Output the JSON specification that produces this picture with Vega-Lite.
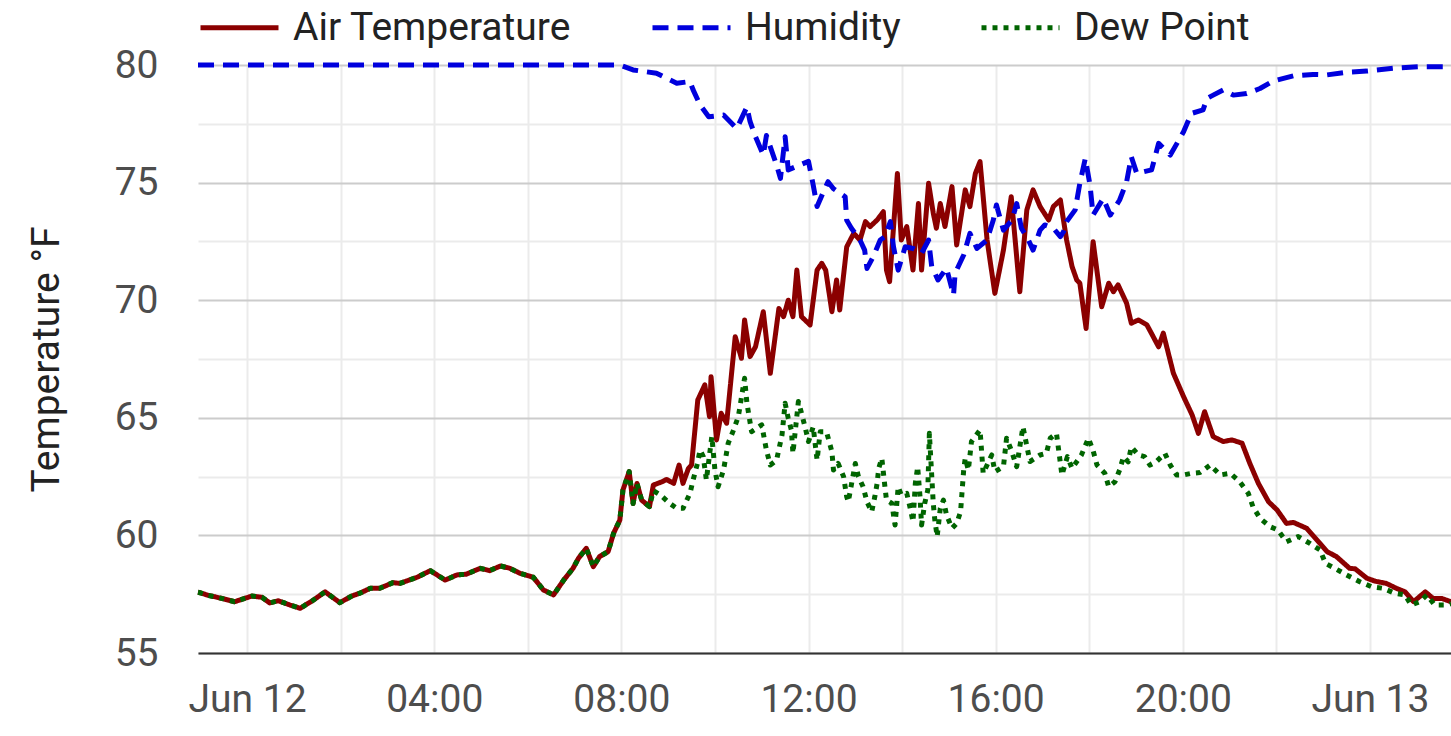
{
"$schema": "https://vega.github.io/schema/vega-lite/v6.json",
"width": 1253,
"height": 588,
"autosize": {"type": "none"},
"padding": {"left": 198, "top": 65, "right": 0, "bottom": 83},
"background": "white",
"config": {"font": "Roboto", "view": {"stroke": null}},
"data": {"values": [
{"s":"A","t":"2024-06-11T22:57","v":57.58},{"s":"A","t":"2024-06-11T23:00","v":57.56},{"s":"A","t":"2024-06-11T23:10","v":57.45},{"s":"A","t":"2024-06-11T23:19","v":57.39},{"s":"A","t":"2024-06-11T23:30","v":57.3},{"s":"A","t":"2024-06-11T23:44","v":57.18},{"s":"A","t":"2024-06-11T23:55","v":57.3},
{"s":"A","t":"2024-06-12T00:06","v":57.42},{"s":"A","t":"2024-06-12T00:19","v":57.37},{"s":"A","t":"2024-06-12T00:29","v":57.13},{"s":"A","t":"2024-06-12T00:40","v":57.22},{"s":"A","t":"2024-06-12T00:55","v":57.04},{"s":"A","t":"2024-06-12T01:08","v":56.9},{"s":"A","t":"2024-06-12T01:25","v":57.25},{"s":"A","t":"2024-06-12T01:40","v":57.6},{"s":"A","t":"2024-06-12T01:59","v":57.14},{"s":"A","t":"2024-06-12T02:14","v":57.42},{"s":"A","t":"2024-06-12T02:25","v":57.55},{"s":"A","t":"2024-06-12T02:38","v":57.75},{"s":"A","t":"2024-06-12T02:50","v":57.75},{"s":"A","t":"2024-06-12T03:07","v":57.99},{"s":"A","t":"2024-06-12T03:16","v":57.96},{"s":"A","t":"2024-06-12T03:38","v":58.22},{"s":"A","t":"2024-06-12T03:55","v":58.5},{"s":"A","t":"2024-06-12T04:14","v":58.1},{"s":"A","t":"2024-06-12T04:29","v":58.32},{"s":"A","t":"2024-06-12T04:41","v":58.35},{"s":"A","t":"2024-06-12T04:59","v":58.6},{"s":"A","t":"2024-06-12T05:11","v":58.5},{"s":"A","t":"2024-06-12T05:25","v":58.7},{"s":"A","t":"2024-06-12T05:37","v":58.6},{"s":"A","t":"2024-06-12T05:50","v":58.39},{"s":"A","t":"2024-06-12T06:07","v":58.22},{"s":"A","t":"2024-06-12T06:20","v":57.68},{"s":"A","t":"2024-06-12T06:33","v":57.47},{"s":"A","t":"2024-06-12T06:46","v":58.1},{"s":"A","t":"2024-06-12T06:58","v":58.6},{"s":"A","t":"2024-06-12T07:05","v":59.03},{"s":"A","t":"2024-06-12T07:15","v":59.45},{"s":"A","t":"2024-06-12T07:24","v":58.67},{"s":"A","t":"2024-06-12T07:32","v":59.1},{"s":"A","t":"2024-06-12T07:43","v":59.31},{"s":"A","t":"2024-06-12T07:50","v":60.09},{"s":"A","t":"2024-06-12T07:58","v":60.65},
{"s":"A","t":"2024-06-12T08:02","v":61.93},{"s":"A","t":"2024-06-12T08:10","v":62.71},{"s":"A","t":"2024-06-12T08:15","v":61.36},{"s":"A","t":"2024-06-12T08:20","v":62.21},{"s":"A","t":"2024-06-12T08:26","v":61.5},{"s":"A","t":"2024-06-12T08:36","v":61.22},{"s":"A","t":"2024-06-12T08:41","v":62.14},{"s":"A","t":"2024-06-12T08:52","v":62.28},{"s":"A","t":"2024-06-12T08:58","v":62.38},{"s":"A","t":"2024-06-12T09:07","v":62.21},{"s":"A","t":"2024-06-12T09:14","v":62.99},{"s":"A","t":"2024-06-12T09:19","v":62.21},{"s":"A","t":"2024-06-12T09:26","v":62.85},{"s":"A","t":"2024-06-12T09:30","v":62.99},{"s":"A","t":"2024-06-12T09:38","v":65.76},{"s":"A","t":"2024-06-12T09:47","v":66.4},{"s":"A","t":"2024-06-12T09:53","v":65.05},{"s":"A","t":"2024-06-12T09:55","v":66.75},{"s":"A","t":"2024-06-12T10:02","v":64.06},{"s":"A","t":"2024-06-12T10:08","v":65.19},{"s":"A","t":"2024-06-12T10:15","v":64.77},{"s":"A","t":"2024-06-12T10:26","v":68.45},{"s":"A","t":"2024-06-12T10:34","v":67.53},{"s":"A","t":"2024-06-12T10:38","v":69.16},{"s":"A","t":"2024-06-12T10:45","v":67.6},{"s":"A","t":"2024-06-12T10:52","v":68.02},{"s":"A","t":"2024-06-12T11:02","v":69.51},{"s":"A","t":"2024-06-12T11:11","v":66.89},{"s":"A","t":"2024-06-12T11:22","v":69.65},{"s":"A","t":"2024-06-12T11:28","v":69.3},{"s":"A","t":"2024-06-12T11:34","v":70.0},{"s":"A","t":"2024-06-12T11:40","v":69.3},{"s":"A","t":"2024-06-12T11:45","v":71.28},{"s":"A","t":"2024-06-12T11:51","v":69.3},{"s":"A","t":"2024-06-12T12:02","v":68.95},{"s":"A","t":"2024-06-12T12:11","v":71.28},{"s":"A","t":"2024-06-12T12:17","v":71.57},{"s":"A","t":"2024-06-12T12:22","v":71.28},{"s":"A","t":"2024-06-12T12:30","v":69.51},{"s":"A","t":"2024-06-12T12:36","v":70.86},{"s":"A","t":"2024-06-12T12:40","v":69.58},{"s":"A","t":"2024-06-12T12:49","v":72.27},{"s":"A","t":"2024-06-12T12:58","v":72.84},{"s":"A","t":"2024-06-12T13:06","v":72.56},{"s":"A","t":"2024-06-12T13:13","v":73.34},{"s":"A","t":"2024-06-12T13:19","v":73.13},{"s":"A","t":"2024-06-12T13:28","v":73.41},{"s":"A","t":"2024-06-12T13:36","v":73.76},{"s":"A","t":"2024-06-12T13:40","v":71.28},{"s":"A","t":"2024-06-12T13:44","v":70.79},{"s":"A","t":"2024-06-12T13:54","v":75.39},{"s":"A","t":"2024-06-12T13:59","v":72.56},{"s":"A","t":"2024-06-12T14:06","v":73.13},{"s":"A","t":"2024-06-12T14:14","v":71.28},{"s":"A","t":"2024-06-12T14:21","v":74.11},{"s":"A","t":"2024-06-12T14:25","v":71.28},{"s":"A","t":"2024-06-12T14:34","v":74.97},{"s":"A","t":"2024-06-12T14:40","v":73.7},{"s":"A","t":"2024-06-12T14:44","v":73.06},{"s":"A","t":"2024-06-12T14:49","v":74.11},{"s":"A","t":"2024-06-12T14:55","v":73.13},{"s":"A","t":"2024-06-12T15:04","v":74.83},{"s":"A","t":"2024-06-12T15:10","v":72.35},{"s":"A","t":"2024-06-12T15:21","v":74.69},{"s":"A","t":"2024-06-12T15:27","v":73.98},{"s":"A","t":"2024-06-12T15:34","v":75.39},{"s":"A","t":"2024-06-12T15:40","v":75.89},{"s":"A","t":"2024-06-12T15:49","v":72.56},{"s":"A","t":"2024-06-12T15:59","v":70.29},{"s":"A","t":"2024-06-12T16:10","v":72.13},{"s":"A","t":"2024-06-12T16:20","v":74.4},{"s":"A","t":"2024-06-12T16:31","v":70.36},{"s":"A","t":"2024-06-12T16:40","v":73.84},{"s":"A","t":"2024-06-12T16:48","v":74.69},{"s":"A","t":"2024-06-12T16:57","v":73.98},{"s":"A","t":"2024-06-12T17:08","v":73.41},{"s":"A","t":"2024-06-12T17:14","v":73.98},{"s":"A","t":"2024-06-12T17:23","v":74.26},{"s":"A","t":"2024-06-12T17:31","v":72.56},{"s":"A","t":"2024-06-12T17:38","v":71.43},{"s":"A","t":"2024-06-12T17:44","v":70.86},{"s":"A","t":"2024-06-12T17:48","v":70.72},{"s":"A","t":"2024-06-12T17:56","v":68.8},{"s":"A","t":"2024-06-12T18:05","v":72.49},{"s":"A","t":"2024-06-12T18:16","v":69.72},{"s":"A","t":"2024-06-12T18:25","v":70.72},{"s":"A","t":"2024-06-12T18:31","v":70.36},{"s":"A","t":"2024-06-12T18:37","v":70.65},{"s":"A","t":"2024-06-12T18:48","v":69.87},{"s":"A","t":"2024-06-12T18:54","v":69.02},{"s":"A","t":"2024-06-12T19:03","v":69.16},{"s":"A","t":"2024-06-12T19:14","v":68.95},{"s":"A","t":"2024-06-12T19:29","v":68.02},{"s":"A","t":"2024-06-12T19:35","v":68.6},{"s":"A","t":"2024-06-12T19:48","v":66.89},{"s":"A","t":"2024-06-12T20:01","v":65.9},{"s":"A","t":"2024-06-12T20:12","v":65.12},{"s":"A","t":"2024-06-12T20:20","v":64.34},{"s":"A","t":"2024-06-12T20:28","v":65.26},{"s":"A","t":"2024-06-12T20:39","v":64.2},{"s":"A","t":"2024-06-12T20:52","v":63.99},{"s":"A","t":"2024-06-12T21:03","v":64.06},{"s":"A","t":"2024-06-12T21:16","v":63.92},{"s":"A","t":"2024-06-12T21:26","v":63.06},{"s":"A","t":"2024-06-12T21:37","v":62.21},{"s":"A","t":"2024-06-12T21:50","v":61.43},{"s":"A","t":"2024-06-12T22:01","v":61.08},{"s":"A","t":"2024-06-12T22:13","v":60.51},{"s":"A","t":"2024-06-12T22:22","v":60.55},{"s":"A","t":"2024-06-12T22:39","v":60.3},{"s":"A","t":"2024-06-12T22:56","v":59.66},{"s":"A","t":"2024-06-12T23:05","v":59.31},{"s":"A","t":"2024-06-12T23:17","v":59.1},{"s":"A","t":"2024-06-12T23:34","v":58.6},{"s":"A","t":"2024-06-12T23:41","v":58.58},{"s":"A","t":"2024-06-12T23:56","v":58.18},{"s":"A","t":"2024-06-13T00:07","v":58.05},{"s":"A","t":"2024-06-13T00:21","v":57.96},{"s":"A","t":"2024-06-13T00:34","v":57.75},{"s":"A","t":"2024-06-13T00:45","v":57.6},{"s":"A","t":"2024-06-13T00:56","v":57.18},{"s":"A","t":"2024-06-13T01:11","v":57.6},{"s":"A","t":"2024-06-13T01:21","v":57.32},{"s":"A","t":"2024-06-13T01:32","v":57.32},{"s":"A","t":"2024-06-13T01:44","v":57.18},
{"s":"H","t":"2024-06-11T22:57","v":80},{"s":"H","t":"2024-06-12T07:58","v":80},{"s":"H","t":"2024-06-12T08:15","v":79.79},{"s":"H","t":"2024-06-12T08:45","v":79.65},{"s":"H","t":"2024-06-12T09:11","v":79.22},{"s":"H","t":"2024-06-12T09:28","v":79.3},{"s":"H","t":"2024-06-12T09:32","v":78.94},{"s":"H","t":"2024-06-12T09:41","v":78.3},{"s":"H","t":"2024-06-12T09:52","v":77.8},{"s":"H","t":"2024-06-12T10:11","v":77.87},{"s":"H","t":"2024-06-12T10:28","v":77.3},{"s":"H","t":"2024-06-12T10:41","v":78.22},{"s":"H","t":"2024-06-12T10:45","v":77.6},{"s":"H","t":"2024-06-12T10:52","v":76.95},{"s":"H","t":"2024-06-12T11:02","v":76.17},{"s":"H","t":"2024-06-12T11:06","v":77.0},{"s":"H","t":"2024-06-12T11:19","v":75.75},{"s":"H","t":"2024-06-12T11:24","v":75.18},{"s":"H","t":"2024-06-12T11:30","v":76.95},{"s":"H","t":"2024-06-12T11:34","v":75.54},{"s":"H","t":"2024-06-12T11:49","v":75.75},{"s":"H","t":"2024-06-12T12:00","v":75.9},{"s":"H","t":"2024-06-12T12:06","v":74.9},{"s":"H","t":"2024-06-12T12:11","v":73.98},{"s":"H","t":"2024-06-12T12:19","v":74.6},{"s":"H","t":"2024-06-12T12:25","v":75.04},{"s":"H","t":"2024-06-12T12:32","v":74.74},{"s":"H","t":"2024-06-12T12:47","v":74.4},{"s":"H","t":"2024-06-12T12:49","v":73.4},{"s":"H","t":"2024-06-12T12:55","v":73.06},{"s":"H","t":"2024-06-12T13:06","v":72.56},{"s":"H","t":"2024-06-12T13:12","v":72.13},{"s":"H","t":"2024-06-12T13:15","v":71.35},{"s":"H","t":"2024-06-12T13:23","v":71.85},{"s":"H","t":"2024-06-12T13:32","v":72.56},{"s":"H","t":"2024-06-12T13:38","v":72.7},{"s":"H","t":"2024-06-12T13:45","v":73.34},{"s":"H","t":"2024-06-12T13:49","v":72.27},{"s":"H","t":"2024-06-12T13:55","v":71.28},{"s":"H","t":"2024-06-12T14:04","v":72.27},{"s":"H","t":"2024-06-12T14:14","v":72.2},{"s":"H","t":"2024-06-12T14:25","v":71.99},{"s":"H","t":"2024-06-12T14:34","v":72.56},{"s":"H","t":"2024-06-12T14:38","v":71.43},{"s":"H","t":"2024-06-12T14:46","v":70.86},{"s":"H","t":"2024-06-12T14:57","v":71.36},{"s":"H","t":"2024-06-12T15:06","v":70.22},{"s":"H","t":"2024-06-12T15:08","v":71.14},{"s":"H","t":"2024-06-12T15:19","v":71.92},{"s":"H","t":"2024-06-12T15:27","v":72.84},{"s":"H","t":"2024-06-12T15:36","v":72.2},{"s":"H","t":"2024-06-12T15:49","v":72.56},{"s":"H","t":"2024-06-12T15:57","v":73.41},{"s":"H","t":"2024-06-12T16:01","v":74.05},{"s":"H","t":"2024-06-12T16:10","v":72.98},{"s":"H","t":"2024-06-12T16:21","v":73.41},{"s":"H","t":"2024-06-12T16:27","v":74.11},{"s":"H","t":"2024-06-12T16:33","v":73.06},{"s":"H","t":"2024-06-12T16:42","v":72.56},{"s":"H","t":"2024-06-12T16:48","v":72.13},{"s":"H","t":"2024-06-12T16:57","v":72.98},{"s":"H","t":"2024-06-12T17:03","v":73.2},{"s":"H","t":"2024-06-12T17:14","v":73.06},{"s":"H","t":"2024-06-12T17:23","v":72.7},{"s":"H","t":"2024-06-12T17:27","v":72.91},{"s":"H","t":"2024-06-12T17:31","v":73.34},{"s":"H","t":"2024-06-12T17:42","v":73.84},{"s":"H","t":"2024-06-12T17:48","v":74.97},{"s":"H","t":"2024-06-12T17:55","v":76.03},{"s":"H","t":"2024-06-12T18:01","v":74.9},{"s":"H","t":"2024-06-12T18:05","v":73.62},{"s":"H","t":"2024-06-12T18:18","v":74.33},{"s":"H","t":"2024-06-12T18:27","v":73.62},{"s":"H","t":"2024-06-12T18:39","v":74.26},{"s":"H","t":"2024-06-12T18:48","v":75.04},{"s":"H","t":"2024-06-12T18:54","v":76.1},{"s":"H","t":"2024-06-12T19:01","v":75.39},{"s":"H","t":"2024-06-12T19:20","v":75.54},{"s":"H","t":"2024-06-12T19:29","v":76.67},{"s":"H","t":"2024-06-12T19:44","v":76.17},{"s":"H","t":"2024-06-12T20:01","v":77.16},{"s":"H","t":"2024-06-12T20:11","v":77.94},{"s":"H","t":"2024-06-12T20:26","v":78.09},{"s":"H","t":"2024-06-12T20:31","v":78.58},{"s":"H","t":"2024-06-12T20:39","v":78.72},{"s":"H","t":"2024-06-12T20:52","v":78.94},{"s":"H","t":"2024-06-12T21:05","v":78.72},{"s":"H","t":"2024-06-12T21:22","v":78.79},{"s":"H","t":"2024-06-12T21:39","v":79.0},{"s":"H","t":"2024-06-12T21:56","v":79.32},{"s":"H","t":"2024-06-12T22:22","v":79.54},{"s":"H","t":"2024-06-12T22:47","v":79.6},{"s":"H","t":"2024-06-12T23:05","v":79.58},{"s":"H","t":"2024-06-12T23:30","v":79.69},{"s":"H","t":"2024-06-12T23:56","v":79.74},{"s":"H","t":"2024-06-13T00:30","v":79.86},{"s":"H","t":"2024-06-13T01:04","v":79.93},{"s":"H","t":"2024-06-13T01:44","v":79.93},
{"s":"D","t":"2024-06-11T22:57","v":57.58},{"s":"D","t":"2024-06-11T23:00","v":57.56},{"s":"D","t":"2024-06-11T23:10","v":57.45},{"s":"D","t":"2024-06-11T23:19","v":57.39},{"s":"D","t":"2024-06-11T23:30","v":57.3},{"s":"D","t":"2024-06-11T23:44","v":57.18},{"s":"D","t":"2024-06-11T23:55","v":57.3},
{"s":"D","t":"2024-06-12T00:06","v":57.42},{"s":"D","t":"2024-06-12T00:19","v":57.37},{"s":"D","t":"2024-06-12T00:29","v":57.13},{"s":"D","t":"2024-06-12T00:40","v":57.22},{"s":"D","t":"2024-06-12T00:55","v":57.04},{"s":"D","t":"2024-06-12T01:08","v":56.9},{"s":"D","t":"2024-06-12T01:25","v":57.25},{"s":"D","t":"2024-06-12T01:40","v":57.6},{"s":"D","t":"2024-06-12T01:59","v":57.14},{"s":"D","t":"2024-06-12T02:14","v":57.42},{"s":"D","t":"2024-06-12T02:25","v":57.55},{"s":"D","t":"2024-06-12T02:38","v":57.75},{"s":"D","t":"2024-06-12T02:50","v":57.75},{"s":"D","t":"2024-06-12T03:07","v":57.99},{"s":"D","t":"2024-06-12T03:16","v":57.96},{"s":"D","t":"2024-06-12T03:38","v":58.22},{"s":"D","t":"2024-06-12T03:55","v":58.5},{"s":"D","t":"2024-06-12T04:14","v":58.1},{"s":"D","t":"2024-06-12T04:29","v":58.32},{"s":"D","t":"2024-06-12T04:41","v":58.35},{"s":"D","t":"2024-06-12T04:59","v":58.6},{"s":"D","t":"2024-06-12T05:11","v":58.5},{"s":"D","t":"2024-06-12T05:25","v":58.7},{"s":"D","t":"2024-06-12T05:37","v":58.6},{"s":"D","t":"2024-06-12T05:50","v":58.39},{"s":"D","t":"2024-06-12T06:07","v":58.22},{"s":"D","t":"2024-06-12T06:20","v":57.68},{"s":"D","t":"2024-06-12T06:33","v":57.47},{"s":"D","t":"2024-06-12T06:46","v":58.1},{"s":"D","t":"2024-06-12T06:58","v":58.6},{"s":"D","t":"2024-06-12T07:05","v":59.03},{"s":"D","t":"2024-06-12T07:15","v":59.45},{"s":"D","t":"2024-06-12T07:24","v":58.67},{"s":"D","t":"2024-06-12T07:32","v":59.1},{"s":"D","t":"2024-06-12T07:43","v":59.31},{"s":"D","t":"2024-06-12T07:50","v":60.09},{"s":"D","t":"2024-06-12T07:58","v":60.65},
{"s":"D","t":"2024-06-12T08:02","v":61.93},{"s":"D","t":"2024-06-12T08:10","v":62.71},{"s":"D","t":"2024-06-12T08:15","v":61.36},{"s":"D","t":"2024-06-12T08:20","v":62.21},{"s":"D","t":"2024-06-12T08:26","v":61.5},{"s":"D","t":"2024-06-12T08:36","v":61.22},{"s":"D","t":"2024-06-12T08:41","v":61.9},{"s":"D","t":"2024-06-12T08:50","v":61.72},{"s":"D","t":"2024-06-12T09:02","v":61.36},{"s":"D","t":"2024-06-12T09:11","v":61.15},{"s":"D","t":"2024-06-12T09:19","v":61.15},{"s":"D","t":"2024-06-12T09:28","v":61.79},{"s":"D","t":"2024-06-12T09:32","v":62.36},{"s":"D","t":"2024-06-12T09:37","v":62.99},{"s":"D","t":"2024-06-12T09:41","v":63.63},{"s":"D","t":"2024-06-12T09:45","v":63.35},{"s":"D","t":"2024-06-12T09:49","v":62.36},{"s":"D","t":"2024-06-12T09:56","v":64.2},{"s":"D","t":"2024-06-12T10:00","v":62.78},{"s":"D","t":"2024-06-12T10:04","v":62.07},{"s":"D","t":"2024-06-12T10:11","v":62.78},{"s":"D","t":"2024-06-12T10:17","v":63.92},{"s":"D","t":"2024-06-12T10:23","v":64.41},{"s":"D","t":"2024-06-12T10:30","v":65.05},{"s":"D","t":"2024-06-12T10:38","v":66.68},{"s":"D","t":"2024-06-12T10:41","v":65.62},{"s":"D","t":"2024-06-12T10:47","v":64.41},{"s":"D","t":"2024-06-12T11:00","v":64.7},{"s":"D","t":"2024-06-12T11:06","v":63.63},{"s":"D","t":"2024-06-12T11:11","v":62.99},{"s":"D","t":"2024-06-12T11:19","v":63.2},{"s":"D","t":"2024-06-12T11:26","v":64.27},{"s":"D","t":"2024-06-12T11:30","v":65.62},{"s":"D","t":"2024-06-12T11:34","v":64.98},{"s":"D","t":"2024-06-12T11:38","v":64.48},{"s":"D","t":"2024-06-12T11:40","v":63.49},{"s":"D","t":"2024-06-12T11:47","v":65.69},{"s":"D","t":"2024-06-12T11:51","v":65.2},{"s":"D","t":"2024-06-12T11:56","v":64.55},{"s":"D","t":"2024-06-12T12:00","v":63.99},{"s":"D","t":"2024-06-12T12:06","v":64.62},{"s":"D","t":"2024-06-12T12:11","v":63.2},{"s":"D","t":"2024-06-12T12:15","v":64.41},{"s":"D","t":"2024-06-12T12:23","v":64.41},{"s":"D","t":"2024-06-12T12:30","v":63.56},{"s":"D","t":"2024-06-12T12:32","v":62.78},{"s":"D","t":"2024-06-12T12:38","v":63.06},{"s":"D","t":"2024-06-12T12:45","v":62.5},{"s":"D","t":"2024-06-12T12:49","v":61.64},{"s":"D","t":"2024-06-12T12:51","v":61.43},{"s":"D","t":"2024-06-12T13:00","v":63.06},{"s":"D","t":"2024-06-12T13:04","v":62.5},{"s":"D","t":"2024-06-12T13:10","v":62.07},{"s":"D","t":"2024-06-12T13:15","v":61.43},{"s":"D","t":"2024-06-12T13:21","v":61.0},{"s":"D","t":"2024-06-12T13:25","v":61.64},{"s":"D","t":"2024-06-12T13:28","v":62.21},{"s":"D","t":"2024-06-12T13:30","v":62.85},{"s":"D","t":"2024-06-12T13:34","v":63.28},{"s":"D","t":"2024-06-12T13:38","v":62.07},{"s":"D","t":"2024-06-12T13:40","v":61.5},{"s":"D","t":"2024-06-12T13:47","v":61.36},{"s":"D","t":"2024-06-12T13:49","v":60.87},{"s":"D","t":"2024-06-12T13:51","v":60.44},{"s":"D","t":"2024-06-12T13:55","v":62.07},{"s":"D","t":"2024-06-12T13:59","v":61.72},{"s":"D","t":"2024-06-12T14:06","v":61.79},{"s":"D","t":"2024-06-12T14:10","v":61.22},{"s":"D","t":"2024-06-12T14:14","v":60.58},{"s":"D","t":"2024-06-12T14:17","v":62.21},{"s":"D","t":"2024-06-12T14:20","v":62.92},{"s":"D","t":"2024-06-12T14:23","v":61.64},{"s":"D","t":"2024-06-12T14:25","v":60.44},{"s":"D","t":"2024-06-12T14:29","v":61.36},{"s":"D","t":"2024-06-12T14:33","v":61.93},{"s":"D","t":"2024-06-12T14:35","v":64.34},{"s":"D","t":"2024-06-12T14:40","v":61.36},{"s":"D","t":"2024-06-12T14:42","v":60.65},{"s":"D","t":"2024-06-12T14:45","v":59.95},{"s":"D","t":"2024-06-12T14:49","v":61.15},{"s":"D","t":"2024-06-12T14:53","v":61.5},{"s":"D","t":"2024-06-12T14:57","v":60.87},{"s":"D","t":"2024-06-12T15:04","v":60.3},{"s":"D","t":"2024-06-12T15:10","v":60.51},{"s":"D","t":"2024-06-12T15:15","v":61.0},{"s":"D","t":"2024-06-12T15:19","v":62.78},{"s":"D","t":"2024-06-12T15:21","v":63.28},{"s":"D","t":"2024-06-12T15:25","v":62.78},{"s":"D","t":"2024-06-12T15:29","v":63.99},{"s":"D","t":"2024-06-12T15:40","v":64.48},{"s":"D","t":"2024-06-12T15:44","v":62.64},{"s":"D","t":"2024-06-12T15:55","v":63.42},{"s":"D","t":"2024-06-12T15:59","v":62.71},{"s":"D","t":"2024-06-12T16:10","v":62.92},{"s":"D","t":"2024-06-12T16:14","v":64.13},{"s":"D","t":"2024-06-12T16:20","v":63.63},{"s":"D","t":"2024-06-12T16:27","v":62.92},{"s":"D","t":"2024-06-12T16:35","v":64.62},{"s":"D","t":"2024-06-12T16:44","v":63.14},{"s":"D","t":"2024-06-12T16:57","v":63.42},{"s":"D","t":"2024-06-12T17:05","v":63.49},{"s":"D","t":"2024-06-12T17:10","v":64.13},{"s":"D","t":"2024-06-12T17:18","v":64.34},{"s":"D","t":"2024-06-12T17:25","v":62.57},{"s":"D","t":"2024-06-12T17:32","v":63.35},{"s":"D","t":"2024-06-12T17:38","v":62.85},{"s":"D","t":"2024-06-12T17:50","v":63.42},{"s":"D","t":"2024-06-12T17:59","v":64.13},{"s":"D","t":"2024-06-12T18:05","v":63.6},{"s":"D","t":"2024-06-12T18:10","v":62.99},{"s":"D","t":"2024-06-12T18:20","v":62.64},{"s":"D","t":"2024-06-12T18:25","v":62.07},{"s":"D","t":"2024-06-12T18:33","v":62.28},{"s":"D","t":"2024-06-12T18:39","v":62.78},{"s":"D","t":"2024-06-12T18:44","v":63.35},{"s":"D","t":"2024-06-12T18:50","v":63.13},{"s":"D","t":"2024-06-12T18:54","v":63.77},{"s":"D","t":"2024-06-12T19:03","v":63.42},{"s":"D","t":"2024-06-12T19:11","v":63.35},{"s":"D","t":"2024-06-12T19:18","v":62.99},{"s":"D","t":"2024-06-12T19:26","v":63.13},{"s":"D","t":"2024-06-12T19:37","v":63.49},{"s":"D","t":"2024-06-12T19:44","v":62.99},{"s":"D","t":"2024-06-12T19:52","v":62.57},{"s":"D","t":"2024-06-12T20:01","v":62.57},{"s":"D","t":"2024-06-12T20:11","v":62.64},{"s":"D","t":"2024-06-12T20:22","v":62.67},{"s":"D","t":"2024-06-12T20:35","v":62.99},{"s":"D","t":"2024-06-12T20:48","v":62.57},{"s":"D","t":"2024-06-12T21:01","v":62.64},{"s":"D","t":"2024-06-12T21:13","v":62.28},{"s":"D","t":"2024-06-12T21:24","v":61.79},{"s":"D","t":"2024-06-12T21:30","v":61.22},{"s":"D","t":"2024-06-12T21:39","v":60.73},{"s":"D","t":"2024-06-12T21:52","v":60.37},{"s":"D","t":"2024-06-12T22:02","v":60.23},{"s":"D","t":"2024-06-12T22:13","v":59.73},{"s":"D","t":"2024-06-12T22:28","v":59.95},{"s":"D","t":"2024-06-12T22:43","v":59.66},{"s":"D","t":"2024-06-12T22:56","v":59.38},{"s":"D","t":"2024-06-12T23:03","v":58.81},{"s":"D","t":"2024-06-12T23:15","v":58.6},{"s":"D","t":"2024-06-12T23:30","v":58.32},{"s":"D","t":"2024-06-12T23:47","v":58.03},{"s":"D","t":"2024-06-13T00:02","v":57.82},{"s":"D","t":"2024-06-13T00:17","v":57.75},{"s":"D","t":"2024-06-13T00:32","v":57.54},{"s":"D","t":"2024-06-13T00:45","v":57.47},{"s":"D","t":"2024-06-13T00:53","v":57.04},{"s":"D","t":"2024-06-13T01:04","v":57.18},{"s":"D","t":"2024-06-13T01:13","v":57.47},{"s":"D","t":"2024-06-13T01:23","v":57.04},{"s":"D","t":"2024-06-13T01:38","v":57.04},{"s":"D","t":"2024-06-13T01:44","v":57.1}
]},
"mark": {"type": "line", "strokeWidth": 5, "strokeJoin": "round"},
"encoding": {
  "x": {"field": "t", "type": "temporal",
    "scale": {"domain": [{"year": 2024, "month": 6, "date": 11, "hours": 22, "minutes": 57}, {"year": 2024, "month": 6, "date": 13, "hours": 1, "minutes": 44}]},
    "axis": {"title": null,
      "values": [{"year":2024,"month":6,"date":12,"hours":0},{"year":2024,"month":6,"date":12,"hours":2},{"year":2024,"month":6,"date":12,"hours":4},{"year":2024,"month":6,"date":12,"hours":6},{"year":2024,"month":6,"date":12,"hours":8},{"year":2024,"month":6,"date":12,"hours":10},{"year":2024,"month":6,"date":12,"hours":12},{"year":2024,"month":6,"date":12,"hours":14},{"year":2024,"month":6,"date":12,"hours":16},{"year":2024,"month":6,"date":12,"hours":18},{"year":2024,"month":6,"date":12,"hours":20},{"year":2024,"month":6,"date":12,"hours":22},{"year":2024,"month":6,"date":13,"hours":0}],
      "labelExpr": "hours(datum.value) == 0 ? timeFormat(datum.value, '%b %d') : (hours(datum.value) % 4 == 0 ? timeFormat(datum.value, '%H:%M') : '')",
      "grid": true, "gridColor": "#ebebeb", "gridWidth": 2, "ticks": false,
      "domain": true, "domainColor": "#333333", "domainWidth": 2,
      "labelFontSize": 39, "labelColor": "#4d4d4d", "labelPadding": 27, "labelFlush": false, "labelOverlap": false}},
  "y": {"field": "v", "type": "quantitative",
    "scale": {"domain": [55, 80], "nice": false, "zero": false},
    "axis": {"title": "Temperature °F",
      "values": [55, 57.5, 60, 62.5, 65, 67.5, 70, 72.5, 75, 77.5, 80],
      "labelExpr": "datum.value % 5 === 0 ? datum.label : ''",
      "gridColor": {"condition": {"test": "datum.value % 5 === 0", "value": "#cccccc"}, "value": "#ebebeb"},
      "gridWidth": 2, "domain": false, "ticks": false,
      "labelFontSize": 39, "labelColor": "#4d4d4d", "labelPadding": 40,
      "titleFontSize": 39, "titleFontWeight": "normal", "titleColor": "#222222", "titlePadding": 48}},
  "color": {"field": "s", "type": "nominal",
    "scale": {"domain": ["A", "H", "D"], "range": ["#8b0000", "#0000dd", "#006400"]},
    "legend": {"orient": "none", "legendX": 0, "legendY": -79, "direction": "horizontal", "title": null,
      "symbolType": "stroke", "symbolSize": 6084, "symbolStrokeWidth": 5,
      "labelFontSize": 39, "labelColor": "#222222", "labelOffset": 12, "columnPadding": 70, "labelLimit": 600,
      "labelExpr": "datum.label == 'A' ? 'Air Temperature' : (datum.label == 'H' ? 'Humidity' : 'Dew Point')"}},
  "strokeDash": {"field": "s", "type": "nominal",
    "scale": {"domain": ["A", "H", "D"], "range": [[1, 0], [16, 9], [5, 6]]},
    "legend": {"orient": "none", "legendX": 0, "legendY": -79, "direction": "horizontal", "title": null,
      "symbolType": "stroke", "symbolSize": 6084, "symbolStrokeWidth": 5,
      "labelFontSize": 39, "labelColor": "#222222", "labelOffset": 12, "columnPadding": 70, "labelLimit": 600,
      "labelExpr": "datum.label == 'A' ? 'Air Temperature' : (datum.label == 'H' ? 'Humidity' : 'Dew Point')"}}
}
}
